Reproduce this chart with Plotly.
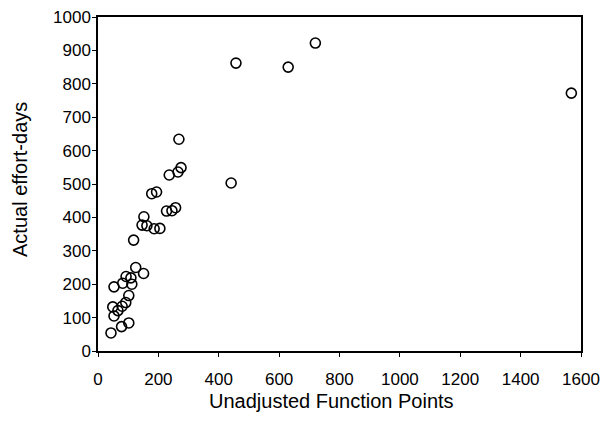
import plotly.graph_objects as go

# unadjusted function points vs actual effort
ufp = [43, 78, 102, 49, 53, 66, 80, 92, 102, 53, 82, 93, 112, 109, 125, 151,
       118, 152, 146, 162, 186, 205, 178, 194, 227, 245, 257, 236, 265, 275,
       268, 441, 457, 630, 720, 1568]
effort = [54, 73, 84, 132, 105, 121, 134, 145, 166, 192, 203, 223, 200, 219, 250, 232,
          332, 402, 377, 375, 366, 367, 471, 476, 419, 420, 429, 527, 536, 549,
          634, 503, 862, 850, 922, 772]

x_ticks = list(range(0, 1601, 200))
y_ticks = list(range(0, 1001, 100))

font_family = "Liberation Sans, Arial, sans-serif"
title_font = dict(family=font_family, size=20, color="black")

fig = go.Figure(go.Scatter(
    x=ufp, y=effort, mode="markers",
    marker=dict(symbol="circle-open", size=10, color="black", line=dict(width=1.6)),
    showlegend=False, cliponaxis=False,
))

axis_common = dict(
    showgrid=False, zeroline=False, showline=True, linecolor="black", linewidth=1.5,
    mirror=True, ticks="outside", ticklen=4, tickwidth=1, tickcolor="black",
    automargin=False, ticklabeloverflow="allow",
    tickfont=dict(family=font_family, size=17, color="black"),
)

fig.update_xaxes(range=[0, 1600], tickvals=x_ticks, ticklabelstandoff=8, **axis_common)
fig.update_yaxes(range=[0, 1000], tickvals=y_ticks, ticklabelstandoff=-2, **axis_common)

# axis titles as annotations so they sit where the scan has them
fig.add_annotation(text="Unadjusted Function Points", xref="paper", yref="paper",
                   x=0.5, y=0, xanchor="center", yanchor="middle",
                   xshift=-8, yshift=-50, showarrow=False, font=title_font)
fig.add_annotation(text="Actual effort-days", xref="paper", yref="paper",
                   x=0, y=0.5, xanchor="center", yanchor="middle", textangle=-90,
                   xshift=-78, yshift=4, showarrow=False, font=title_font)

# page body has an 8px margin, so the figure is sized to fit inside the window
fig.update_layout(
    width=601, height=423,
    margin=dict(l=90, r=28, t=9, b=80),
    paper_bgcolor="white", plot_bgcolor="white",
)

fig.write_html("out.html")
